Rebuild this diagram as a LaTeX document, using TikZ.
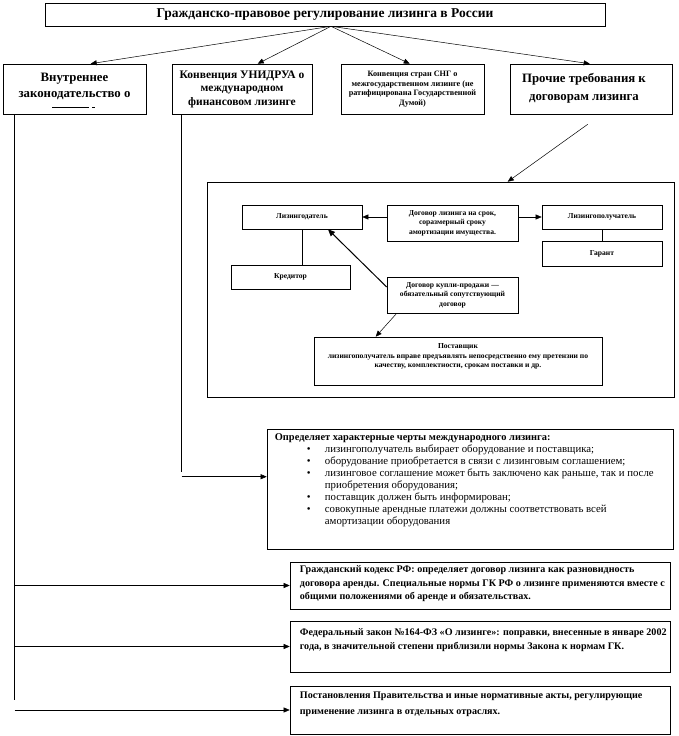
\documentclass[tikz,border=0pt]{standalone}
\usepackage{fontspec}
\setmainfont{Liberation Serif}
\usetikzlibrary{arrows.meta,calc}
\newcommand{\myfs}[2]{\fontsize{#1}{#2}\selectfont}
\begin{document}
\begin{tikzpicture}[x=1pt,y=-1pt,
  box/.style={draw, line width=0.6pt, rectangle, inner sep=1pt, align=center},
  arr/.style={-{Triangle[length=6pt,width=5pt]}, line width=0.5pt},
  ln/.style={line width=0.6pt},
  small/.style={font=\bfseries\myfs{7.6}{9.5}, align=center}]
\useasboundingbox (0,0) rectangle (678,736);
\fill[white] (0,0) rectangle (678,736);

% top level
\node[box, minimum width=560pt, minimum height=23pt, font=\bfseries\myfs{13.5}{15}] (top) at (325,14.5) {Гражданско-правовое регулирование лизинга в России};

\node[box, minimum width=143pt, minimum height=50pt] (b1) at (74.5,89) {};
\node[font=\bfseries\myfs{12.8}{15.5}, align=center] (b1t) at (74.5,86.5) {Внутреннее\\законодательство о};
\draw[line width=0.6pt] (52,107) -- (89,107);
\draw[line width=0.6pt] (92,107) -- (95,107);

\node[box, minimum width=140pt, minimum height=50pt, font=\bfseries\myfs{11.5}{13.5}] (b2) at (242,89) {Конвенция УНИДРУА о\\международном\\финансовом лизинге};
\node[box, minimum width=143pt, minimum height=50pt, font=\bfseries\myfs{8.2}{9.5}] (b3) at (412.5,89) {Конвенция стран СНГ о\\межгосударственном лизинге (не\\ратифицирована Государственной\\Думой)};
\node[box, minimum width=162pt, minimum height=50pt] (b4) at (591,89) {};
\node[font=\bfseries\myfs{12.8}{18}, align=center] (b4t) at (584,88) {Прочие требования к\\договорам лизинга};

\coordinate (src) at ($(top.south)+(6,0)$);
\draw[arr] (src) -- ($(b1.north west)+(88,0)$);
\draw[arr] (src) -- ($(b2.north west)+(86,0)$);
\draw[arr] (src) -- ($(b3.north west)+(69,0)$);
\draw[arr] (src) -- ($(b4.north west)+(80,0)$);

% inner frame
\node[box, minimum width=467pt, minimum height=215pt] (frame) at (440.5,289.5) {};
\draw[arr] ($(b4.south west)+(78,10)$) -- ($(frame.north west)+(301,0)$);

\node[box, minimum width=120pt, minimum height=24pt, small] (ld) at (302,217) {Лизингодатель};
\node[box, minimum width=131pt, minimum height=36pt, small] (dl) at (452.5,223) {Договор лизинга на срок,\\соразмерный сроку\\амортизации имущества.};
\node[box, minimum width=120pt, minimum height=24pt, small] (lp) at (602,217) {Лизингополучатель};
\node[box, minimum width=120pt, minimum height=25pt, small] (gr) at (602,253.5) {Гарант};
\node[box, minimum width=119pt, minimum height=24pt, small] (kr) at (290.5,277) {Кредитор};
\node[box, minimum width=131pt, minimum height=36pt, small] (kp) at (452.5,295) {Договор купли-продажи —\\обязательный сопутствующий\\договор};
\node[box, minimum width=288pt, minimum height=48pt] (ps) at (458,361) {};
\node[small] (pst) at ($(ps.north)+(0,20)$) {Поставщик\\лизингополучатель вправе предъявлять непосредственно ему претензии по\\качеству, комплектности, срокам поставки и др.};

\draw[arr] (dl.west |- ld.east) -- (ld.east);
\draw[arr] (dl.east |- lp.west) -- (lp.west);
\draw[ln] (ld.south) -- (kr.north -| ld.south);
\draw[ln] (lp.south) -- (gr.north);
\draw[-{Triangle[length=7pt,width=6pt]}, line width=1pt] ($(kp.west)+(0,-8)$) -- ($(ld.south)+(26,0)$);
\draw[arr] ($(kp.south west)+(10,0)$) -- ($(ps.north west)+(62,0)$);

% big box
\node[box, minimum width=406pt, minimum height=120pt] (big) at (470,489) {};
\node[anchor=north west, align=left, inner sep=0pt, font=\myfs{10.8}{12}] (bigt) at ($(big.north west)+(8,5)$) {%
{\bfseries\myfs{10.4}{12}Определяет характерные черты международного лизинга:}\\
\hspace*{32pt}\makebox[18pt][l]{\textbullet}лизингополучатель выбирает оборудование и поставщика;\\
\hspace*{32pt}\makebox[18pt][l]{\textbullet}оборудование приобретается в связи с лизинговым соглашением;\\
\hspace*{32pt}\makebox[18pt][l]{\textbullet}лизинговое соглашение может быть заключено как раньше, так и после\\
\hspace*{50pt}приобретения оборудования;\\
\hspace*{32pt}\makebox[18pt][l]{\textbullet}поставщик должен быть информирован;\\
\hspace*{32pt}\makebox[18pt][l]{\textbullet}совокупные арендные платежи должны соответствовать всей\\
\hspace*{50pt}амортизации оборудования};

% bottom boxes
\node[box, minimum width=380pt, minimum height=47pt] (gk) at (480,585.5) {};
\node[anchor=north west, align=left, inner sep=0pt, font=\bfseries\myfs{10.1}{13.5}] (gkt) at ($(gk.north west)+(10,4)$) {Гражданский кодекс РФ: определяет договор лизинга как разновидность\\договора аренды. Специальные нормы ГК РФ о лизинге применяются вместе с\\общими положениями об аренде и обязательствах.};
\node[box, minimum width=380pt, minimum height=51pt] (fz) at (480,646.5) {};
\node[anchor=north west, align=left, inner sep=0pt, font=\bfseries\myfs{10.1}{14}] (fzt) at ($(fz.north west)+(10,8)$) {Федеральный закон №164-ФЗ «О лизинге»: поправки, внесенные в январе 2002\\года, в значительной степени приблизили нормы Закона к нормам ГК.};
\node[box, minimum width=380pt, minimum height=48pt] (pp) at (480,710) {};
\node[anchor=north west, align=left, inner sep=0pt, font=\bfseries\myfs{10.1}{16}] (ppt) at ($(pp.north west)+(10,6)$) {Постановления Правительства и иные нормативные акты, регулирующие\\применение лизинга в отдельных отраслях.};

% left connectors
\coordinate (l1) at ($(b1.south west)+(12,0)$);
\draw[ln] (l1) -- ++(0,586);
\draw[arr] (gk.west -| l1) -- (gk.west);
\draw[arr] (fz.west -| l1) -- (fz.west);
\draw[arr] (pp.west -| l1) -- (pp.west);

\coordinate (l2) at ($(b2.south west)+(10,0)$);
\draw[ln] (l2) -- ++(0,358);
\coordinate (bigin) at ($(big.north west)+(0,48)$);
\draw[arr] (bigin -| l2) -- (bigin);
\end{tikzpicture}
\end{document}
